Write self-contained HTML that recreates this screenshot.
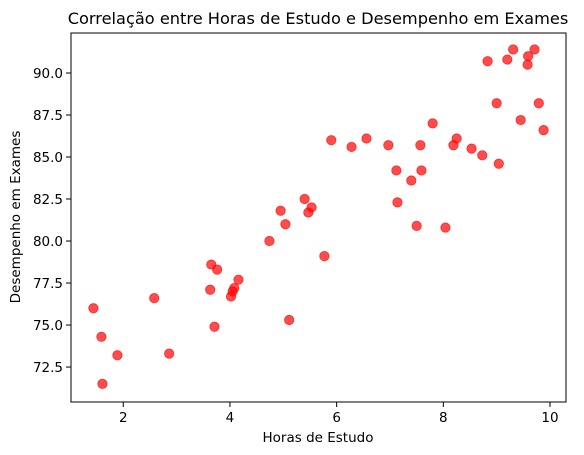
<!DOCTYPE html>
<html><head><meta charset="utf-8"><style>
body{margin:0;background:#fff;}
svg{display:block;font-family:"DejaVu Sans","Liberation Sans",sans-serif;}
</style></head><body>
<svg id="chart" width="584" height="455" viewBox="0 0 584 455" xmlns="http://www.w3.org/2000/svg">
<rect width="584" height="455" fill="#fff"/>
<text x="318" y="24" font-size="16.2" text-anchor="middle" fill="#000">Correlação entre Horas de Estudo e Desempenho em Exames</text>
<g id="points"></g>
<rect x="71" y="33" width="495" height="369" fill="none" stroke="#000" stroke-width="1"/>
<g id="xt"></g>
<g id="yt"></g>
<text x="318" y="442" font-size="13.5" text-anchor="middle">Horas de Estudo</text>
<text transform="translate(20,217) rotate(-90)" font-size="13.5" text-anchor="middle">Desempenho em Exames</text>
</svg>
<script>
const hours=[1.44,1.59,1.61,1.89,2.58,2.86,3.63,3.65,3.76,3.71,4.02,4.05,4.08,4.16,4.74,4.95,5.04,5.11,5.40,5.47,5.53,5.77,5.90,6.28,6.56,6.97,7.12,7.14,7.40,7.50,7.57,7.59,7.80,8.04,8.19,8.25,8.53,8.73,8.83,9.00,9.04,9.20,9.31,9.45,9.58,9.59,9.71,9.79,9.88];
const scores=[76.0,74.3,71.5,73.2,76.6,73.3,77.1,78.6,78.3,74.9,76.7,77.0,77.2,77.7,80.0,81.8,81.0,75.3,82.5,81.7,82.0,79.1,86.0,85.6,86.1,85.7,84.2,82.3,83.6,80.9,85.7,84.2,87.0,80.8,85.7,86.1,85.5,85.1,90.7,88.2,84.6,90.8,91.4,87.2,90.5,91.0,91.4,88.2,86.6];
const xTicks=[2,4,6,8,10];
const yTicks=[72.5,75.0,77.5,80.0,82.5,85.0,87.5,90.0];
const X0=71,X1=566,Y0=402,Y1=33,xmin=1.02,xmax=10.30,ymin=70.42,ymax=92.38;
const sx=v=>X0+(v-xmin)/(xmax-xmin)*(X1-X0);
const sy=v=>Y0-(v-ymin)/(ymax-ymin)*(Y0-Y1);
const NS="http://www.w3.org/2000/svg";
const pg=document.getElementById('points');
hours.forEach((h,i)=>{
  const c=document.createElementNS(NS,'circle');
  c.setAttribute('cx',sx(h));c.setAttribute('cy',sy(scores[i]));c.setAttribute('r',4.7);
  c.setAttribute('fill','rgba(255,0,0,0.7)');
  c.setAttribute('stroke','rgba(255,0,0,0.7)');c.setAttribute('stroke-width','0.8');
  
  
  pg.appendChild(c);
});
const xt=document.getElementById('xt');
xTicks.forEach(t=>{
  const x=sx(t);
  const l=document.createElementNS(NS,'line');
  l.setAttribute('x1',x);l.setAttribute('x2',x);l.setAttribute('y1',Y0);l.setAttribute('y2',Y0+5);l.setAttribute('stroke','#000');
  
  
  xt.appendChild(l);
  const tx=document.createElementNS(NS,'text');
  tx.setAttribute('x',x);tx.setAttribute('y',Y0+20);tx.setAttribute('font-size','13.5');tx.setAttribute('text-anchor','middle');
  tx.textContent=t;
  
  
  xt.appendChild(tx);
});
const yt=document.getElementById('yt');
yTicks.forEach(t=>{
  const y=sy(t);
  const l=document.createElementNS(NS,'line');
  l.setAttribute('x1',X0-5);l.setAttribute('x2',X0);l.setAttribute('y1',y);l.setAttribute('y2',y);l.setAttribute('stroke','#000');
  
  
  yt.appendChild(l);
  const tx=document.createElementNS(NS,'text');
  tx.setAttribute('x',X0-8);tx.setAttribute('y',y+5);tx.setAttribute('font-size','13.5');tx.setAttribute('text-anchor','end');
  tx.textContent=t.toFixed(1);
  
  
  yt.appendChild(tx);
});
</script>
</body></html>
